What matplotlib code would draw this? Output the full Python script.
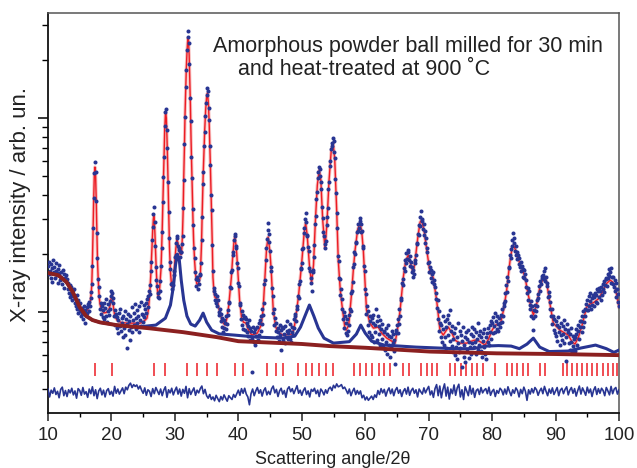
import numpy as np
import matplotlib
matplotlib.use("Agg")
import matplotlib.pyplot as plt
from matplotlib.ticker import LogLocator, NullFormatter, MultipleLocator

plt.rcParams['font.family'] = ['Liberation Sans', 'DejaVu Sans']

# observed intensity, 2theta = 10.0 ... 100.0 step 0.1 (one row per degree)
obs = [
    172, 158, 181, 163, 150, 176, 168, 143, 185, 161,
    170, 149, 162, 178, 155, 141, 167, 159, 174, 146,
    160, 152, 139, 165, 148, 157, 133, 150, 144, 155,
    148, 131, 142, 125, 138, 119, 134, 124, 115, 130,
    121, 131, 112, 118, 108, 122, 104, 115, 99, 110,
    101, 112, 95, 105, 98, 92, 107, 99, 88, 103,
    97, 106, 99, 110, 101, 113, 107, 118, 127, 140,
    172, 270, 385, 520, 590, 530, 372, 255, 190, 148,
    134, 121, 104, 112, 98, 108, 94, 103, 111, 92,
    105, 96, 117, 89, 101, 110, 97, 114, 104, 121,
    129, 126, 112, 118, 95, 102, 86, 98, 83, 94,
    91, 78, 99, 85, 104, 80, 93, 88, 74, 96,
    83, 101, 76, 92, 65, 87, 98, 81, 90, 72,
    95, 84, 106, 79, 91, 99, 86, 110, 82, 93,
    88, 102, 96, 79, 108, 91, 85, 113, 98, 89,
    97, 109, 94, 104, 112, 99, 117, 106, 121, 128,
    124, 138, 163, 181, 234, 275, 320, 350, 290, 220,
    171, 146, 136, 119, 125, 118, 129, 145, 172, 214,
    258, 371, 495, 627, 905, 1080, 1110, 870, 702, 470,
    328, 242, 181, 166, 139, 132, 141, 138, 155, 162,
    192, 198, 227, 248, 241, 219, 208, 213, 192, 204,
    205, 224, 248, 345, 480, 735, 1010, 1450, 1760, 2240,
    2600, 2820, 2450, 1900, 1270, 960, 630, 490, 338, 281,
    214, 190, 160, 148, 136, 152, 131, 147, 139, 156,
    158, 178, 236, 310, 455, 530, 720, 850, 1030, 1190,
    1310, 1420, 1380, 1130, 980, 720, 575, 400, 335, 221,
    162, 128, 133, 115, 124, 112, 121, 108, 116, 100,
    97, 104, 90, 98, 84, 93, 79, 91, 83, 88,
    82, 95, 87, 102, 97, 113, 111, 135, 133, 160,
    165, 198, 203, 236, 254, 246, 219, 213, 178, 168,
    141, 136, 109, 112, 92, 101, 86, 97, 82, 93,
    94, 81, 92, 79, 88, 75, 85, 91, 72, 83,
    80, 49, 73, 84, 70, 79, 68, 82, 75, 71,
    84, 72, 88, 76, 91, 80, 95, 87, 104, 97,
    112, 140, 147, 186, 214, 238, 265, 288, 252, 230,
    206, 171, 162, 133, 121, 99, 104, 86, 93, 80,
    88, 74, 83, 79, 71, 86, 76, 81, 64, 84,
    72, 83, 77, 69, 85, 74, 80, 90, 73, 78,
    81, 73, 87, 70, 79, 84, 76, 92, 83, 95,
    98, 90, 107, 104, 121, 118, 140, 145, 168, 166,
    178, 212, 214, 255, 270, 301, 325, 292, 250, 248,
    216, 207, 168, 163, 142, 150, 128, 161, 164, 192,
    222, 283, 312, 384, 418, 492, 530, 560, 548, 505,
    470, 432, 350, 305, 258, 248, 214, 224, 233, 281,
    310, 342, 432, 470, 565, 598, 690, 715, 740, 790,
    760, 672, 620, 485, 412, 325, 270, 195, 183, 150,
    148, 122, 131, 104, 117, 92, 100, 83, 95, 78,
    88, 76, 92, 80, 97, 86, 104, 101, 125, 128,
    143, 171, 176, 204, 200, 230, 228, 259, 262, 285,
    270, 296, 305, 286, 258, 262, 220, 214, 172, 162,
    131, 124, 98, 108, 86, 101, 79, 95, 90, 76,
    93, 74, 88, 97, 70, 86, 79, 104, 72, 90,
    96, 77, 85, 68, 91, 82, 73, 87, 66, 80,
    79, 64, 83, 70, 61, 77, 86, 68, 75, 59,
    74, 66, 80, 69, 77, 63, 72, 54, 81, 78,
    86, 78, 92, 87, 104, 96, 118, 115, 142, 138,
    148, 168, 163, 186, 179, 201, 188, 210, 204, 186,
    195, 172, 181, 160, 170, 152, 165, 158, 186, 180,
    198, 228, 225, 252, 250, 281, 279, 310, 330, 302,
    296, 268, 284, 250, 262, 228, 240, 203, 213, 180,
    181, 160, 170, 149, 165, 158, 143, 160, 140, 147,
    135, 117, 126, 105, 115, 92, 101, 80, 88, 74,
    86, 70, 82, 95, 68, 74, 90, 84, 65, 92,
    97, 76, 88, 71, 102, 80, 67, 85, 73, 62,
    78, 60, 83, 66, 74, 57, 88, 69, 62, 80,
    65, 76, 52, 71, 84, 59, 68, 74, 55, 79,
    63, 73, 81, 58, 70, 66, 77, 61, 84, 69,
    75, 66, 82, 70, 61, 79, 73, 88, 64, 76,
    68, 80, 63, 74, 59, 71, 78, 66, 82, 61,
    74, 57, 78, 70, 83, 68, 86, 79, 73, 90,
    88, 78, 94, 85, 79, 99, 90, 82, 96, 87,
    80, 93, 88, 84, 97, 89, 104, 95, 112, 108,
    125, 114, 138, 127, 152, 145, 170, 168, 198, 189,
    212, 220, 236, 255, 241, 228, 206, 218, 196, 205,
    188, 197, 176, 190, 170, 181, 162, 173, 166, 152,
    164, 149, 158, 135, 146, 126, 133, 116, 128, 109,
    104, 114, 96, 108, 93, 81, 102, 95, 109, 101,
    115, 107, 124, 118, 136, 129, 145, 140, 153, 149,
    156, 148, 163, 168, 144, 152, 137, 141, 120, 127,
    121, 104, 113, 96, 104, 87, 95, 81, 92, 78,
    90, 75, 86, 71, 94, 79, 84, 68, 88, 76,
    72, 85, 77, 91, 69, 82, 74, 56, 87, 79,
    81, 69, 77, 64, 83, 70, 62, 75, 67, 73,
    74, 63, 77, 82, 68, 80, 86, 73, 90, 84,
    90, 79, 95, 84, 101, 89, 104, 96, 110, 102,
    116, 102, 121, 107, 114, 125, 104, 118, 109, 122,
    120, 108, 126, 113, 122, 131, 112, 128, 119, 133,
    128, 116, 135, 122, 140, 131, 127, 145, 138, 150,
    148, 136, 157, 149, 166, 153, 160, 142, 168, 151,
    139, 152, 134, 146, 128, 141, 120, 131, 113, 124,
    108,
]
obs_x = np.linspace(10, 100, len(obs))

# calculated profile
calc_x = [10, 11.6, 12.9, 13.9, 15.0, 15.5, 16.0, 16.3, 16.5, 16.7, 16.8, 16.9,
          17.0, 17.1, 17.2, 17.3, 17.4, 17.5, 17.6, 17.7, 17.8, 17.9, 18.0, 18.1,
          18.2, 18.4, 18.8, 19.2, 19.6, 19.8, 19.9, 20.0, 20.1, 20.2, 20.3, 20.5,
          20.7, 21.0, 21.5, 22.5, 24.5, 25.0, 25.6, 25.8, 25.95, 26.1, 26.2, 26.3,
          26.4, 26.5, 26.6, 26.67, 26.75, 26.85, 26.95, 27.05, 27.15, 27.3, 27.4,
          27.5, 27.6, 27.7, 27.8, 27.9, 28.0, 28.1, 28.2, 28.3, 28.4, 28.5, 28.56,
          28.65, 28.75, 28.85, 28.95, 29.05, 29.15, 29.3, 29.45, 29.55, 29.7, 29.85,
          30.0, 30.15, 30.3, 30.45, 30.6, 30.8, 31.0, 31.1, 31.2, 31.3, 31.4, 31.5,
          31.6, 31.7, 31.8, 31.9, 32.0, 32.08, 32.15, 32.25, 32.35, 32.45, 32.55,
          32.65, 32.75, 32.85, 32.95, 33.1, 33.25, 33.45, 33.65, 33.85, 34.0, 34.1,
          34.2, 34.3, 34.45, 34.6, 34.7, 34.85, 35.0, 35.14, 35.3, 35.4, 35.5, 35.6,
          35.7, 35.8, 35.9, 36.0, 36.15, 36.3, 36.6, 36.8, 37.0, 37.5, 37.9, 38.2,
          38.5, 38.7, 38.9, 39.1, 39.3, 39.45, 39.6, 39.75, 39.97, 40.1, 40.2, 40.5,
          40.8, 41.2, 41.6, 42.1, 43.0, 43.6, 43.9, 44.1, 44.2, 44.45, 44.7, 44.95,
          45.1, 45.24, 45.4, 45.5, 45.9, 46.3, 47.0, 48.5, 48.8, 49.0, 49.5, 50.0,
          50.35, 50.6, 50.85, 51.2, 51.55, 51.85, 52.15, 52.45, 52.75, 53.0, 53.3,
          53.65, 53.95, 54.3, 54.65, 54.95, 55.2, 55.5, 55.75, 56.05, 56.3, 56.8,
          57.0, 57.4, 57.85, 58.15, 58.4, 58.8, 59.17, 59.45, 59.7, 60.0, 60.2,
          60.74, 61.3, 62.05, 62.6, 63.4, 64.7, 65.2, 65.5, 66.0, 66.4, 66.8, 67.2,
          67.57, 67.9, 68.3, 68.65, 68.9, 69.3, 69.7, 70.2, 70.7, 71.26, 71.78, 72.3,
          73.1, 73.6, 74.15, 74.9, 76.0, 76.5, 77.3, 78.0, 78.9, 79.5, 80.0, 80.5,
          81.3, 81.8, 82.3, 82.8, 83.1, 83.35, 83.7, 84.1, 84.4, 84.8, 85.2, 85.6,
          86.0, 86.5, 87.0, 87.5, 88.0, 88.3, 88.6, 89.1, 89.65, 90.7, 91.5, 92.0,
          92.6, 93.07, 93.6, 94.1, 94.9, 95.4, 96.0, 96.75, 97.4, 98.0, 98.6, 99.0,
          99.4, 100.0]
calc_y = [159, 155, 143, 127, 106, 101, 100, 103.5, 108, 115, 124, 138,
          180, 260, 378, 508, 559, 508, 378, 260, 185, 151, 130, 117,
          110, 103.5, 99, 99.5, 103, 108.7, 114, 121, 123, 116, 107, 96.5,
          93, 90, 88.5, 87.7, 87.7, 88.8, 93, 102, 115, 135, 155, 185,
          221, 262, 300, 313, 300, 255, 205, 170, 145, 123, 120,
          124, 133, 148, 165, 205, 265, 360, 479, 640, 880, 1036, 1061,
          1000, 800, 600, 420, 300, 215, 161, 140, 135, 142, 155,
          185, 212, 235, 230, 214, 199, 198, 215, 255, 330, 500, 700,
          1050, 1400, 1800, 2150, 2466, 2585, 2500, 2100, 1570, 1150, 770,
          560, 401, 300, 235, 185, 158, 140, 138, 146, 151, 185,
          227, 320, 496, 700, 867, 1100, 1280, 1346, 1167, 950, 743, 560,
          410, 310, 220, 151, 128, 119.5, 117, 110, 102.4, 88.8, 85.7, 93,
          108.7, 128, 151, 190, 228, 244, 225, 200, 151, 130, 115, 94.2,
          88.8, 87.7, 80.7, 76.1, 77.9, 85.7, 102.4, 134, 151, 213, 244, 209,
          180, 151, 118, 102.4, 83.7, 78.8, 76.1, 77, 83, 90.9, 122, 181,
          250, 288, 250, 175, 141, 175, 298, 451, 539, 479, 298,
          213, 281, 479, 684, 743, 607, 336, 185, 132, 111, 82.7,
          80.7, 85.7, 125, 169, 209, 265, 288, 260, 209, 138, 102.4,
          87.7, 82.7, 83.7, 77.9, 73.4, 69.2, 85.7, 102.4, 151, 185, 197, 175,
          159, 189, 244, 291, 298, 260, 209, 161, 151, 115, 80.7, 76.1,
          83.7, 78.8, 71.7, 69.2, 69.2, 70.4, 71.7, 70.8, 67.6, 73.4, 80.7, 85.7,
          86.7, 102.4, 130, 181, 209, 221, 209, 189, 177, 165, 151, 127,
          111, 96.5, 108.7, 133, 149, 151, 143, 111, 87.7, 80.7, 77.9, 76.1,
          70.4, 68.4, 74.3, 83.7, 106, 110, 112, 117, 127, 140, 146, 143,
          135, 106]

# background
bg_x = [10, 11.6, 12.9, 13.9, 15.0, 16.0, 17.0, 18.2, 20.8, 26.0, 31.3, 36.6,
        40.0, 50.0, 54.4, 60.0, 70.2, 80.7, 90.0, 100.0]
bg_y = [159, 155, 143, 127, 106, 95.5, 91, 88.5, 85.7, 82.5, 78.8, 74.3,
        70.8, 68.5, 66.8, 65.5, 62.6, 61.3, 60.8, 60]

# second phase contribution
ph_x = [10, 11.6, 12.9, 13.9, 15.0, 16.0, 17.0, 18.2, 20.8, 24, 27, 28.5, 29.3,
        29.8, 30.1, 30.4, 30.7, 31.0, 31.4, 31.9, 32.5, 33.2, 33.9, 34.45, 35.0,
        35.8, 37, 39.4, 43, 47, 48.9, 49.8, 50.5, 51.2, 51.9, 52.6, 53.5, 55, 57.5,
        58.6, 59.3, 60.0, 61, 63, 68, 74, 77, 79, 81, 83, 84.3, 85.5, 86.5, 87.5,
        89, 92, 94, 96.3, 98, 99.2, 100]
ph_y = [159, 155, 143, 127, 106, 95.5, 91, 88.5, 85.7, 83.7, 85.7, 93, 108.7,
        138, 175, 199, 185, 146, 115, 95.4, 86.7, 84.7, 90.9, 98.8, 88.8,
        80.7, 77.2, 76.1, 74.3, 73.4, 75.2, 83.7, 95.4, 108.7, 95.4, 82.7, 73.4, 69.2, 70.4,
        77, 85.7, 77.9, 70.8, 67.6, 66, 64.8, 64.8, 66.8, 67.2, 66.8, 64.8, 68.4, 73.4, 66,
        62.6, 63, 65.3, 67.6, 64.8, 62, 63.7]

# Bragg reflection positions
bragg = [17.37, 20.1, 26.67, 28.5, 31.9, 33.5, 35.08, 36.56, 39.45, 40.76, 44.54,
         45.87, 47.07, 49.43, 50.6, 51.64, 52.74, 53.8, 54.95, 58.2, 59.2, 60.1,
         61.1, 62.1, 63.0, 63.9, 65.9, 66.9, 68.74, 69.68, 70.47, 71.26, 73.36,
         74.15, 75.05, 75.88, 76.78, 77.6, 78.6, 80.4, 82.3, 83.1, 83.95, 84.8,
         85.7, 87.56, 88.34, 91.1, 91.85, 92.65, 93.44, 94.23, 95.0, 95.8, 96.6,
         97.4, 98.2, 99.0, 99.7]

# difference curve (obs - calc), 2theta step 0.25
diff = [
    0.8, -1.2, 0.5, -0.3, 1.1, -0.6, 0.2, -1.4, 0.7, 1.3, -0.9, 0.4,
    -1.1, 0.6, -0.2, 1.0, -0.7, 0.3, -1.5, 0.9, 0.4, -0.8, 1.2, -0.5,
    0.1, -1.3, 0.8, -0.4, 1.4, -0.9, 0.6, -1.6, 0.3, 1.0, -0.7, 0.5,
    -1.2, 0.4, 0.9, -0.6, 0.2, -1.0, 1.5, -0.3, 0.8, -0.5, 0.3, 1.1,
    -0.4, 1.3, 0.6, 1.8, 2.4, 1.2, 2.0, 1.5, 1.9, 0.8, 1.6, 0.5,
    -0.3, 1.1, -0.8, 0.6, 0.2, -1.1, 0.9, -0.4, 1.2, 0.3, -0.6, 0.8,
    -0.9, 0.5, 1.4, -1.3, 0.6, -0.2, 1.0, -0.7, 0.4, 1.3, -0.5, 0.8,
    -1.0, 0.7, -0.3, 1.5, -1.4, 0.9, -0.6, 0.3, 1.1, -0.8, 0.5, -0.2,
    0.9, 1.6, -0.4, 0.7, -0.9, -1.5, -0.6, -1.8, -1.2, -2.1, -0.8, -1.6,
    -2.3, -1.1, -1.9, -0.7, -1.5, -2.2, -0.9, -1.4, -1.8, -0.6, -1.3, -0.4,
    0.5, -0.8, 0.9, -0.3, 1.0, -0.5, -1.2, -3.0, -0.4, 0.8, -0.9, 0.3,
    1.2, -0.3, 0.6, -1.0, 0.4, 1.1, -0.7, 0.2, -0.6, 0.9, 1.6, -0.2,
    0.7, -1.1, 0.3, 1.0, -0.5, 0.4, -1.3, 0.8, 1.4, 0.1, 0.9, -0.4,
    0.6, 1.7, -0.3, 0.5, -0.8, 0.4, 1.1, -0.6, 0.3, -1.2, 0.7, 0.2,
    1.0, -0.4, 0.5, -1.1, 0.8, 0.2, -0.7, 0.6, -0.3, 0.9, 1.3, 0.4,
    1.8, 1.1, 2.2, 1.4, 1.6, 2.0, 0.9, 1.3, 0.5, -0.4, 0.8, -0.9,
    0.2, 1.0, -0.6, 0.4, -0.5, 0.3, -1.4, -0.8, -1.9, -1.2, -2.0, -1.5,
    -1.0, -1.8, -0.7, -1.3, 0.4, -0.6, 0.9, -0.2, 0.7, -1.0, 0.3, 1.1,
    -0.4, 0.8, -0.9, 0.5, 1.2, -0.3, 0.6, -1.1, 0.2, 0.9, -0.5, 1.3,
    -0.8, 0.4, 1.0, -0.3, 0.6, -1.2, 0.8, 0.1, -0.5, 1.1, -0.2, 0.7,
    1.5, -0.7, 0.3, -1.3, 0.9, 2.0, -0.9, 1.6, -1.4, 0.7, 2.2, -1.0,
    1.3, -1.7, 0.8, -0.4, 1.9, -0.8, 1.1, 2.1, -1.2, 0.6, -1.8, 1.4,
    0.3, -0.9, 1.7, -0.5, 1.0, -1.3, 0.4, 0.8, -0.6, 1.2, -0.2, 0.5,
    0.9, -0.4, 1.3, -0.8, 0.2, 0.7, -1.1, 0.4, -0.3, 1.0, 0.5, -0.7,
    0.8, -0.5, 1.4, 0.1, -0.9, 0.6, -0.3, 1.1, 0.4, -1.2, 0.7, -0.4,
    1.3, 0.2, -2.0, 0.6, -0.5, 0.9, -0.2, 1.2, 0.6, -0.8, 0.3, 1.0,
    -0.4, 1.5, 0.2, -0.9, 0.8, -0.3, 1.1, -0.6, 0.3, 1.2, -0.9, 0.5,
    1.0, -0.4, 0.7, 1.4, -0.7, 0.5, 1.2, -0.3, 0.9, -1.0, 0.4, 1.6,
    -0.5, 1.1, 0.2, -0.8, 1.3, -0.2, 0.8, -1.1, 0.5, 1.4, -0.6, 0.9,
    -0.3, 1.0, 0.4, -0.9, 1.2, 0.3, -0.7, 1.5, -0.4, 0.8, 1.2, -0.5,
    0.6,
]
diff_x = np.linspace(10, 100, len(diff))

navy = '#283593'
red = '#ec1c24'

fig = plt.figure(figsize=(6.37, 4.68), dpi=100)
ax = fig.add_axes([48 / 637, 55 / 468, 571 / 637, 400 / 468])
ax.set_yscale('log')

ax.plot(calc_x, calc_y, color='#f6a5a5', lw=2.4, alpha=0.7, zorder=2)
ax.plot(calc_x, calc_y, color=red, lw=1.0, zorder=3)
ax.plot(obs_x, obs, 'o', ms=2.9, mew=0, color=navy, zorder=4)
ax.plot(ph_x, ph_y, color=navy, lw=2.2, zorder=5)
ax.plot(bg_x, bg_y, color='#8b2020', lw=2.8, zorder=6)
ax.vlines(bragg, 46.8, 54.6, color=red, lw=1.1, zorder=3)
# difference curve drawn below the pattern, scaled x1.8 for display
ax.plot(diff_x, 38.7 + 1.8 * np.array(diff), color=navy, lw=1.2, zorder=3)

ax.set_xlim(10, 100)
ax.set_ylim(30.2, 3477)

ax.xaxis.set_major_locator(MultipleLocator(10))
ax.xaxis.set_minor_locator(MultipleLocator(5))
ax.yaxis.set_major_locator(LogLocator(base=10))
ax.yaxis.set_minor_locator(LogLocator(base=10, subs=np.arange(2, 10)))
ax.yaxis.set_major_formatter(NullFormatter())
ax.yaxis.set_minor_formatter(NullFormatter())
ax.tick_params(axis='x', which='major', direction='out', length=6, width=1.1,
               labelsize=13.5, pad=4, colors='#222222')
ax.tick_params(axis='x', which='minor', direction='out', length=3, width=1.0)
ax.tick_params(axis='y', which='major', direction='out', length=7, width=1.1)
ax.tick_params(axis='y', which='minor', direction='out', length=4, width=1.0)
ax.tick_params(top=False, right=False)

for s in ['left', 'bottom']:
    ax.spines[s].set_linewidth(1.3)
    ax.spines[s].set_color('#111111')
for s in ['top', 'right']:
    ax.spines[s].set_linewidth(1.1)
    ax.spines[s].set_color('#555555')

fig.text(213 / 637, 1 - 52 / 468, 'Amorphous powder ball milled for 30 min',
         fontsize=15.5, ha='left', va='baseline', color='#222222')
fig.text(238 / 637, 1 - 75 / 468, 'and heat-treated at 900 \u02daC',
         fontsize=15.5, ha='left', va='baseline', color='#222222')
fig.text(333 / 637, 0.5 / 468, 'Scattering angle/2\u03b8',
         fontsize=13, ha='center', va='bottom', color='#222222')
fig.text(21 / 637, 1 - 204 / 468, 'X-ray intensity / arb. un.',
         fontsize=16, ha='center', va='center', rotation=90, color='#222222')

fig.savefig('out.png', dpi=100)
